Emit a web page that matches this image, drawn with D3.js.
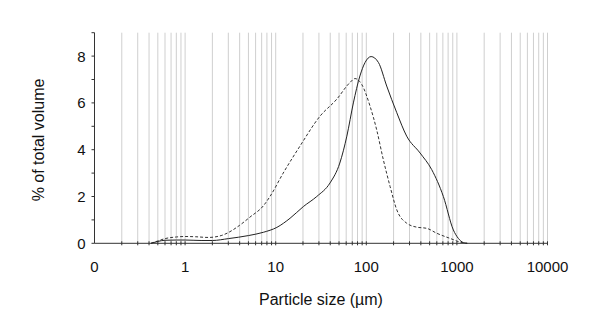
<!DOCTYPE html>
<html>
<head>
<meta charset="utf-8">
<script src="https://cdn.jsdelivr.net/npm/d3@7"></script>
<style>
  body { margin: 0; background: #fff; }
  text { font-family: "Liberation Sans", Arial, sans-serif; fill: #111; }
</style>
</head>
<body>
<div id="chart"></div>
<script>
// data: particle size (µm) vs % of total volume
const solidSize = [0.42, 0.5, 0.6, 0.8, 1, 1.5, 2, 3, 5, 7.3, 10.3, 14.4, 20.2, 28.4, 39.8, 51, 61, 72, 85, 97, 113, 136, 168, 217, 279, 392, 527, 709, 914, 1037, 1178, 1300];
const solidVol  = [0, 0.08, 0.13, 0.14, 0.14, 0.12, 0.12, 0.2, 0.33, 0.47, 0.68, 1.07, 1.57, 2.0, 2.58, 3.43, 4.58, 6.0, 7.15, 7.73, 7.98, 7.73, 6.72, 5.58, 4.58, 3.86, 3.15, 2.0, 0.57, 0.21, 0.03, 0];

const dashedSize = [0.42, 0.5, 0.6, 0.8, 1, 1.3, 1.8, 2.5, 2.9, 4, 5.2, 7.3, 8.65, 12.1, 18.5, 30.8, 47, 66, 75, 89, 110, 130, 154, 183, 217, 279, 360, 464, 599, 840, 1140, 1300];
const dashedVol  = [0, 0.1, 0.2, 0.27, 0.29, 0.28, 0.25, 0.33, 0.43, 0.77, 1.12, 1.6, 2.0, 3.0, 4.15, 5.43, 6.15, 6.87, 7.04, 6.79, 5.86, 4.86, 3.58, 2.43, 1.43, 0.86, 0.69, 0.64, 0.43, 0.21, 0.03, 0];

const xTickValues = [0.1, 1, 10, 100, 1000, 10000];
const xTickLabels = ["0", "1", "10", "100", "1000", "10000"];
const yTickValues = [0, 2, 4, 6, 8];

const width = 600;
const height = 334;

const svg = d3.select("#chart")
  .append("svg")
  .attr("width", width)
  .attr("height", height);

const x = d3.scaleLog().domain([0.1, 10000]).range([94.5, 547.5]);
const y = d3.scaleLinear().domain([0, 9]).range([243.3, 32.7]);

// vertical grid at every 1..9 x decade
const grid = [];
[0.1, 1, 10, 100, 1000].forEach(d => {
  for (let k = 1; k <= 9; k++) if (!(d === 0.1 && k === 1)) grid.push(k * d);
});
grid.push(10000);

svg.append("g")
  .selectAll("line")
  .data(grid)
  .join("line")
  .attr("x1", d => x(d)).attr("x2", d => x(d))
  .attr("y1", y(9)).attr("y2", y(0))
  .attr("stroke", "#cfcfcf")
  .attr("stroke-width", 1);

// x axis with small ticks at each grid position
const xAxis = svg.append("g").attr("transform", `translate(0,${y(0)})`);
xAxis.append("line")
  .attr("x1", x(0.1)).attr("x2", x(10000))
  .attr("stroke", "#333");
xAxis.selectAll(".xt")
  .data(grid)
  .join("line")
  .attr("class", "xt")
  .attr("x1", d => x(d)).attr("x2", d => x(d))
  .attr("y1", -2).attr("y2", 2)
  .attr("stroke", "#333");
xAxis.selectAll("text")
  .data(xTickValues)
  .join("text")
  .attr("x", d => x(d))
  .attr("y", 29)
  .attr("text-anchor", "middle")
  .style("font-size", "15px")
  .text((d, i) => xTickLabels[i]);

// y axis
const yAxis = svg.append("g").attr("transform", `translate(${x(0.1)},0)`);
yAxis.append("line")
  .attr("y1", y(0)).attr("y2", y(9))
  .attr("stroke", "#333");
yAxis.selectAll(".yt")
  .data(d3.range(0, 10))
  .join("line")
  .attr("class", "yt")
  .attr("x1", -3).attr("x2", 0)
  .attr("y1", d => y(d)).attr("y2", d => y(d))
  .attr("stroke", "#333");
yAxis.selectAll("text")
  .data(yTickValues)
  .join("text")
  .attr("x", -9)
  .attr("y", d => y(d) + 5.5)
  .attr("text-anchor", "end")
  .style("font-size", "15px")
  .text(d => d);

// curves
const line = d3.line()
  .x(d => x(d[0]))
  .y(d => y(d[1]))
  .curve(d3.curveMonotoneX);

svg.append("path")
  .datum(dashedSize.map((s, i) => [s, dashedVol[i]]))
  .attr("d", line)
  .attr("fill", "none")
  .attr("stroke", "#333")
  .attr("stroke-width", 1)
  .attr("stroke-dasharray", "3,2");

svg.append("path")
  .datum(solidSize.map((s, i) => [s, solidVol[i]]))
  .attr("d", line)
  .attr("fill", "none")
  .attr("stroke", "#222")
  .attr("stroke-width", 1);

// axis titles
svg.append("text")
  .attr("x", (x(0.1) + x(10000)) / 2)
  .attr("y", 305)
  .attr("text-anchor", "middle")
  .style("font-size", "16px")
  .text("Particle size (µm)");

svg.append("text")
  .attr("transform", "translate(44,140) rotate(-90)")
  .attr("text-anchor", "middle")
  .style("font-size", "16px")
  .text("% of total volume");
</script>
</body>
</html>
